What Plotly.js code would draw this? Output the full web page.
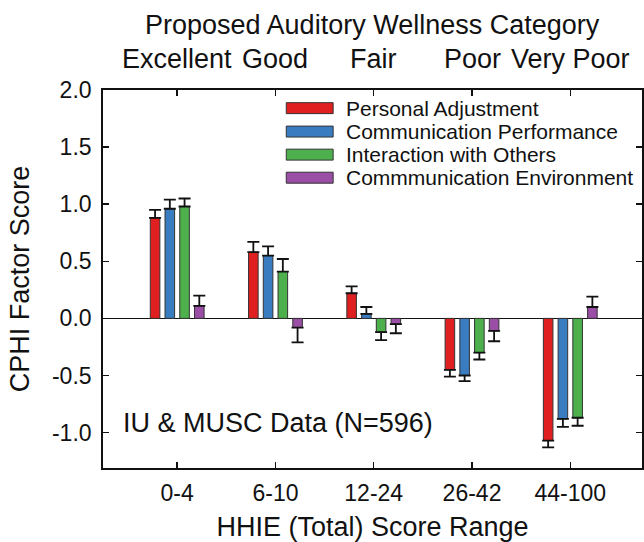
<!DOCTYPE html>
<html>
<head>
<meta charset="utf-8">
<script src="https://cdn.plot.ly/plotly-3.0.1.min.js"></script>
<style>html,body{margin:0;padding:0;background:#fff;}#chart{width:644px;height:542px;}</style>
</head>
<body>
<div id="chart"></div>
<script>
// ---- data ----
const categories = ["0-4", "6-10", "12-24", "26-42", "44-100"];
const wellness = ["Excellent", "Good", "Fair", "Poor", "Very Poor"];
const seriesNames = ["Personal Adjustment", "Communication Performance", "Interaction with Others", "Commmunication Environment"];
const personalAdjustment = [0.88, 0.58, 0.22, -0.45, -1.07];
const communicationPerformance = [0.96, 0.55, 0.04, -0.50, -0.88];
const interactionWithOthers = [0.98, 0.41, -0.12, -0.30, -0.87];
const communicationEnvironment = [0.11, -0.08, -0.05, -0.11, 0.10];
const errPersonal = [0.07, 0.09, 0.06, 0.06, 0.06];
const errPerformance = [0.08, 0.08, 0.06, 0.05, 0.07];
const errInteraction = [0.07, 0.11, 0.07, 0.06, 0.07];
const errEnvironment = [0.09, 0.13, 0.08, 0.09, 0.09];

const seriesValues = [personalAdjustment, communicationPerformance, interactionWithOthers, communicationEnvironment];
const seriesErrors = [errPersonal, errPerformance, errInteraction, errEnvironment];
const colors = ["#e02020", "#3a7cc0", "#4db04d", "#9a4ea6"];

const FONT = "Liberation Sans, Arial, sans-serif";
const xIdx = categories.map((c, i) => i);

const traces = seriesValues.map((vals, s) => ({
  type: "bar",
  name: seriesNames[s],
  x: xIdx,
  y: vals,
  marker: { color: colors[s], line: { color: "#333", width: 1 } },
  error_y: {
    type: "data",
    symmetric: false,
    array: vals.map((v, i) => v >= 0 ? seriesErrors[s][i] : 0),
    arrayminus: vals.map((v, i) => v < 0 ? seriesErrors[s][i] : 0),
    color: "#111",
    thickness: 1.8,
    width: 6
  },
  showlegend: false
}));

// legend (drawn with shapes + annotations)
const shapes = [];
const annotations = [];
const legX0 = 0.340, legX1 = 0.427, legTextX = 0.447;
const legY = [0.952, 0.890, 0.829, 0.768];
const swH = 0.0145;
seriesNames.forEach((n, s) => {
  shapes.push({
    type: "rect", xref: "paper", yref: "paper",
    x0: legX0, x1: legX1, y0: legY[s] - swH, y1: legY[s] + swH,
    fillcolor: colors[s], line: { color: "#333", width: 1 }
  });
  annotations.push({
    xref: "paper", yref: "paper", x: legTextX, y: legY[s],
    xanchor: "left", yanchor: "middle", showarrow: false,
    text: n, font: { family: FONT, size: 21, color: "#111" }
  });
});

// top wellness labels
wellness.forEach((w, i) => {
  annotations.push({
    xref: "x", yref: "paper", x: i, y: 1.083,
    xanchor: "center", yanchor: "middle", showarrow: false,
    text: w, font: { family: FONT, size: 27, color: "#111" }
  });
});
annotations.push({
  xref: "paper", yref: "paper", x: 0.5, y: 1.172,
  xanchor: "center", yanchor: "middle", showarrow: false,
  text: "Proposed Auditory Wellness Category", font: { family: FONT, size: 27, color: "#111" }
});
annotations.push({
  xref: "paper", yref: "paper", x: 0.033, y: 0.119,
  xanchor: "left", yanchor: "middle", showarrow: false,
  text: "IU &amp; MUSC Data (N=596)", font: { family: FONT, size: 27, color: "#111" }
});

const layout = {
  width: 644, height: 542,
  margin: { l: 103, r: 2, t: 90, b: 74, pad: 0 },
  paper_bgcolor: "#fff", plot_bgcolor: "#fff",
  barmode: "group", bargap: 0.4, bargroupgap: 0.35,
  font: { family: FONT, color: "#111" },
  xaxis: {
    range: [-0.755, 4.73],
    tickvals: xIdx, ticktext: categories,
    ticks: "inside", ticklen: 6, tickwidth: 1.5, tickcolor: "#111",
    ticklabelstandoff: 4,
    showline: true, linecolor: "#111", linewidth: 1.8, mirror: "ticks",
    showgrid: false, zeroline: false,
    tickfont: { family: FONT, size: 23, color: "#111" },
    title: { text: "HHIE (Total) Score Range", font: { family: FONT, size: 27, color: "#111" }, standoff: 14 }
  },
  yaxis: {
    range: [-1.31, 2.0],
    tickvals: [-1.0, -0.5, 0, 0.5, 1.0, 1.5, 2.0],
    ticktext: ["-1.0", "-0.5", "0.0", "0.5", "1.0", "1.5", "2.0"],
    ticks: "inside", ticklen: 6, tickwidth: 1.5, tickcolor: "#111",
    ticklabelstandoff: 5,
    showline: true, linecolor: "#111", linewidth: 1.8, mirror: "ticks",
    showgrid: false,
    zeroline: true, zerolinecolor: "#111", zerolinewidth: 1.5,
    tickfont: { family: FONT, size: 23, color: "#111" },
    title: { text: "CPHI Factor Score", font: { family: FONT, size: 27, color: "#111" }, standoff: 14 }
  },
  shapes: shapes,
  annotations: annotations,
  showlegend: false
};

Plotly.newPlot("chart", traces, layout, { displayModeBar: false, staticPlot: true });
</script>
</body>
</html>
